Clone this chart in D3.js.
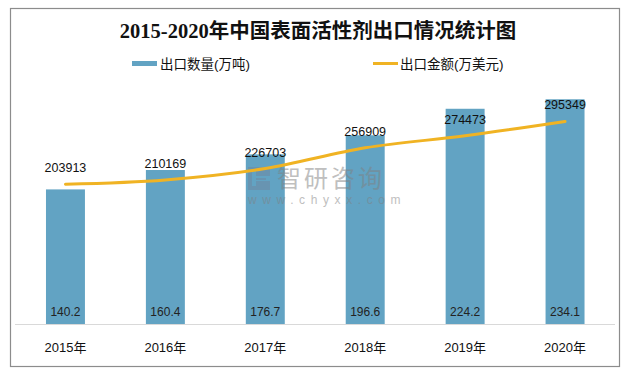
<!DOCTYPE html>
<html>
<head>
<meta charset="utf-8">
<script src="https://cdn.jsdelivr.net/npm/d3@7"></script>
<style>
  body { margin: 0; background: #fff; }
  svg text { font-family: "Liberation Sans", "Noto Sans CJK SC", sans-serif; }
</style>
</head>
<body>
<div class="container"></div>
<script>
var width = 633,
    height = 372;

// data
var years = ['2015年', '2016年', '2017年', '2018年', '2019年', '2020年'];
var volume = [140.2, 160.4, 176.7, 196.6, 224.2, 234.1];      // 出口数量(万吨)
var amount = [203913, 210169, 226703, 256909, 274473, 295349]; // 出口金额(万美元)

var barColor = '#62a3c3',
    lineColor = '#f0b323';

var svg = d3.select('.container').append('svg')
    .attr('width', width)
    .attr('height', height);

// frame
svg.append('rect')
    .attr('x', 10.5).attr('y', 8.5)
    .attr('width', 609).attr('height', 358)
    .attr('fill', '#fff')
    .attr('stroke', '#8c8c8c')
    .attr('stroke-width', 1.2);

var x = d3.scaleBand()
    .domain(years)
    .range([15.5, 615])
    .paddingInner(0.61)
    .paddingOuter(0.305);

var yBar = d3.scaleLinear().domain([0, 250]).range([324, 84]);
var yLine = d3.scaleLinear().domain([0, 350000]).range([324, 84]);

// title
svg.append('text')
    .attr('x', 318).attr('y', 38)
    .attr('text-anchor', 'middle')
    .style('font-family', '"Liberation Serif", "Noto Sans CJK SC", serif')
    .style('font-size', '20.5px')
    .style('font-weight', 'bold')
    .attr('fill', '#111')
    .text('2015-2020年中国表面活性剂出口情况统计图');

// legend
var legend = svg.append('g').style('font-size', '13.5px');
legend.append('rect')
    .attr('x', 132).attr('y', 61).attr('width', 25).attr('height', 5)
    .attr('fill', barColor);
legend.append('text')
    .attr('x', 160).attr('y', 68.5).attr('fill', '#111')
    .text('出口数量(万吨)');
legend.append('line')
    .attr('x1', 373).attr('x2', 398).attr('y1', 63.5).attr('y2', 63.5)
    .attr('stroke', lineColor).attr('stroke-width', 3);
legend.append('text')
    .attr('x', 400).attr('y', 68.5).attr('fill', '#111')
    .text('出口金额(万美元)');

// bars
svg.append('g').selectAll('rect')
    .data(volume)
    .enter().append('rect')
    .attr('x', (d, i) => x(years[i]))
    .attr('width', x.bandwidth())
    .attr('y', (d) => yBar(d))
    .attr('height', (d) => yBar(0) - yBar(d))
    .attr('fill', barColor);

// watermark
var wm = svg.append('g').attr('opacity', 0.5).attr('fill', '#808080');
wm.append('path')
    .attr('d', 'M248,167h22v9h-14v5h14v9h-22zM252,171v15h4v-6h10v-2h-10v-7z')
    .attr('fill', '#6f87a0');
wm.append('text')
    .attr('x', 277).attr('y', 187)
    .style('font-size', '24px')
    .attr('letter-spacing', 3)
    .text('智研咨询');
wm.append('text')
    .attr('x', 248).attr('y', 204)
    .style('font-size', '12px')
    .attr('letter-spacing', 5.6)
    .text('www.chyxx.com');

// bar value labels at the bottom of the bars
svg.append('g').selectAll('text')
    .data(volume)
    .enter().append('text')
    .attr('x', (d, i) => x(years[i]) + x.bandwidth() / 2)
    .attr('y', 316)
    .attr('text-anchor', 'middle')
    .style('font-size', '12px')
    .attr('fill', '#222')
    .text((d) => d.toFixed(1));

// axis line
svg.append('line')
    .attr('x1', 15).attr('x2', 615)
    .attr('y1', 324.5).attr('y2', 324.5)
    .attr('stroke', '#d9d9d9');

// category labels
svg.append('g').selectAll('text')
    .data(years)
    .enter().append('text')
    .attr('x', (d) => x(d) + x.bandwidth() / 2)
    .attr('y', 352)
    .attr('text-anchor', 'middle')
    .style('font-size', '13px')
    .attr('fill', '#111')
    .text((d) => d);

// amount line
var line = d3.line()
    .x((d, i) => x(years[i]) + x.bandwidth() / 2)
    .y((d) => yLine(d))
    .curve(d3.curveMonotoneX);

svg.append('path')
    .datum(amount)
    .attr('d', line)
    .attr('fill', 'none')
    .attr('stroke', lineColor)
    .attr('stroke-width', 3)
    .attr('stroke-linecap', 'round');

svg.append('g').selectAll('text')
    .data(amount)
    .enter().append('text')
    .attr('x', (d, i) => x(years[i]) + x.bandwidth() / 2)
    .attr('y', (d) => yLine(d) - 12)
    .attr('text-anchor', 'middle')
    .style('font-size', '12.5px')
    .attr('fill', '#111')
    .text((d) => d);
</script>
</body>
</html>
